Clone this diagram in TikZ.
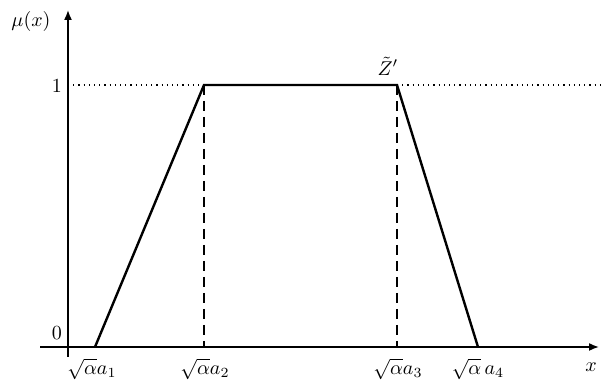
\documentclass[tikz,border=0pt]{standalone}
\usetikzlibrary{arrows.meta}
\begin{document}
\begin{tikzpicture}[x=0.5pt,y=-0.5pt,
  axis/.style={line width=0.8pt,-{Latex[length=5pt,width=4pt]}},
  curve/.style={line width=1.2pt,line join=miter},
  guide/.style={line width=0.9pt,dash pattern=on 5pt off 3pt},
  dots/.style={line width=0.6pt,dotted},
  lab/.style={inner sep=1pt}]
\useasboundingbox (0,0) rectangle (601,383);
% coordinates
\coordinate (o) at (68,347);
\coordinate (xs) at (40,347);
\coordinate (xe) at (599,347);
\coordinate (ys) at (68,357);
\coordinate (ye) at (68,10);
\coordinate (a1) at (95,347);
\coordinate (a2) at (204,85);
\coordinate (a3) at (397,85);
\coordinate (a4) at (478,347);
\coordinate (b2) at (204,347);
\coordinate (b3) at (397,347);
\coordinate (one) at (68,85);
\coordinate (dend) at (601,85);
% axes
\draw[axis] (xs) -- (xe);
\draw[axis] (ys) -- (ye);
% dotted level
\draw[dots] (one) -- (a2);
\draw[dots] (a3) -- (dend);
% dashed guides
\draw[guide] (a2) -- (b2);
\draw[guide] (a3) -- (b3);
% trapezoid
\draw[curve] (a1) -- (a2) -- (a3) -- (a4);
% labels
\node[lab] (mu) at (31,22) {$\mu(x)$};
\node[lab] (l1) at (57,86) {$1$};
\node[lab] (l0) at (57,333) {$0$};
\node[lab] (lx) at (591,367) {$x$};
\node[lab] (z) at (388,66) {$\tilde{Z}'$};
\node[lab] (la1) at (92,369) {$\sqrt{\alpha}a_1$};
\node[lab] (la2) at (205,369) {$\sqrt{\alpha}a_2$};
\node[lab] (la3) at (398,369) {$\sqrt{\alpha}a_3$};
\node[lab] (la4) at (478,369) {$\sqrt{\alpha}\,a_4$};
\end{tikzpicture}
\end{document}
